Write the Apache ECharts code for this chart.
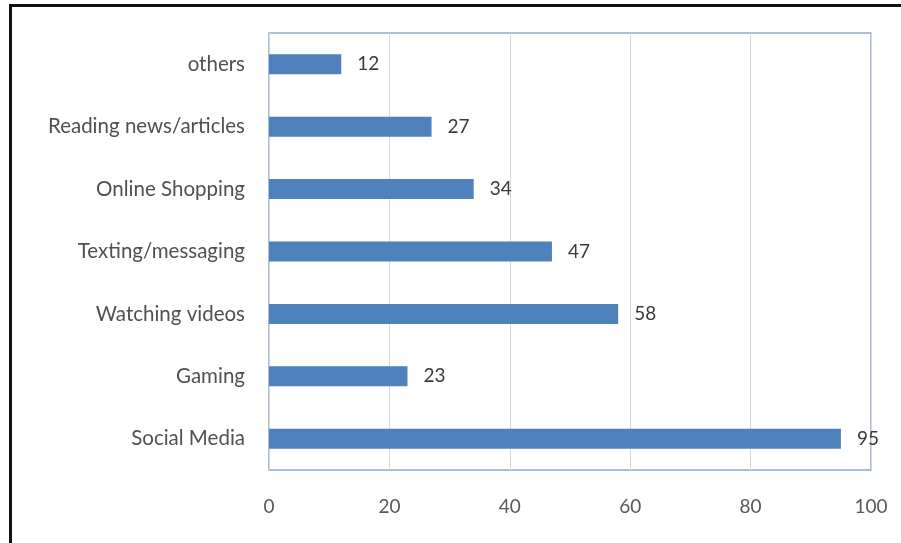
<!DOCTYPE html>
<html>
<head>
<meta charset="utf-8">
<script src="https://cdn.jsdelivr.net/npm/echarts@6/dist/echarts.min.js"></script>
<style>
  html, body { margin: 0; padding: 0; background: #fff; }
  #frame { position: absolute; left: 0; top: 0; width: 901px; height: 543px; overflow: hidden; }
  #chart { position: absolute; left: 0; top: 0; width: 901px; height: 543px; }
  #edgeTop { position: absolute; left: 9px; top: 4px; width: 892px; height: 3px; background: #111; }
  #edgeLeft { position: absolute; left: 9px; top: 4px; width: 3px; height: 539px; background: #111; }
</style>
</head>
<body>
<div id="frame">
  <div id="chart"></div>
  <div id="edgeTop"></div>
  <div id="edgeLeft"></div>
</div>
<script>
// Smartphone activities, listed bottom-to-top on the category axis
const categories = ['Social Media', 'Gaming', 'Watching videos', 'Texting/messaging', 'Online Shopping', 'Reading news/articles', 'others'];
const values = [95, 23, 58, 47, 34, 27, 12];
const xTicks = [0, 20, 40, 60, 80, 100];

const chart = echarts.init(document.getElementById('chart'), null, { renderer: 'canvas' });

const font = 'Lato, "Open Sans", sans-serif';

chart.setOption({
  animation: false,
  backgroundColor: 'transparent',
  grid: {
    left: 269, right: 30, top: 33, bottom: 73,
    show: true,
    borderColor: '#8ea9c8',
    borderWidth: 1.5,
    backgroundColor: '#fff'
  },
  xAxis: {
    type: 'value',
    min: xTicks[0],
    max: xTicks[xTicks.length - 1],
    interval: 20,
    axisLine: { show: false },
    axisTick: { show: false },
    splitLine: { show: true, lineStyle: { color: '#d9d9d9', width: 1 } },
    axisLabel: {
      margin: 27,
      color: '#595959',
      fontFamily: font,
      fontSize: 19,
      formatter: v => xTicks.includes(v) ? String(v) : ''
    }
  },
  yAxis: {
    type: 'category',
    data: categories,
    axisLine: { show: false },
    axisTick: { show: false },
    splitLine: { show: false },
    axisLabel: {
      margin: 24,
      color: '#505050',
      fontFamily: font,
      fontSize: 20.5
    }
  },
  series: [{
    type: 'bar',
    data: values,
    barWidth: 20,
    itemStyle: { color: '#4f81bd' },
    label: {
      show: true,
      position: 'right',
      distance: 16,
      color: '#3a3a3a',
      fontFamily: font,
      fontSize: 19
    }
  }]
});
</script>
</body>
</html>
